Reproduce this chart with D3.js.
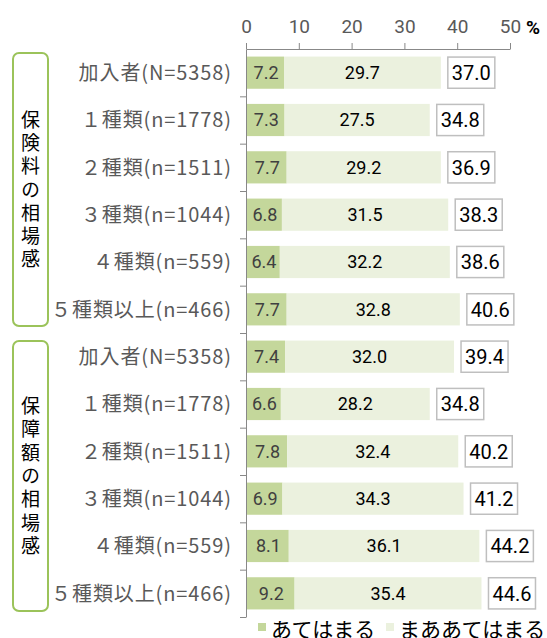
<!DOCTYPE html>
<html>
<head>
<meta charset="utf-8">
<script src="https://cdn.jsdelivr.net/npm/d3@7"></script>
<style>
  body { margin: 0; background: #fff; }
  svg { display: block; font-family: "Noto Sans CJK JP", sans-serif; }
</style>
</head>
<body>
<svg id="chart" width="547" height="638"></svg>
<script>
// row labels (two groups of six)
const categories = [
  "加入者(N=5358)", "１種類(n=1778)", "２種類(n=1511)", "３種類(n=1044)", "４種類(n=559)", "５種類以上(n=466)",
  "加入者(N=5358)", "１種類(n=1778)", "２種類(n=1511)", "３種類(n=1044)", "４種類(n=559)", "５種類以上(n=466)"
];
const groups = ["保険料の相場感", "保障額の相場感"];
const applies = [7.2, 7.3, 7.7, 6.8, 6.4, 7.7, 7.4, 6.6, 7.8, 6.9, 8.1, 9.2];
const somewhat = [29.7, 27.5, 29.2, 31.5, 32.2, 32.8, 32.0, 28.2, 32.4, 34.3, 36.1, 35.4];
const totals = [37.0, 34.8, 36.9, 38.3, 38.6, 40.6, 39.4, 34.8, 40.2, 41.2, 44.2, 44.6];
const ticks = [0, 10, 20, 30, 40, 50];
const seriesNames = ["あてはまる", "まああてはまる"];
const colors = ["#c4d79b", "#ebf1de"];

const svg = d3.select("#chart");
const rows = categories.map((c, i) => ({ i, c, a: applies[i], b: somewhat[i], t: totals[i] }));

const x = d3.scaleLinear().domain([0, 50]).range([246, 510]);
const y = d3.scaleBand().domain(d3.range(12)).range([49, 617]).paddingInner(0.32).paddingOuter(0.16);

// top axis
const xAxis = svg.append("g").attr("transform", "translate(0,49)")
  .call(d3.axisTop(x).tickValues(ticks).tickSize(6).tickSizeOuter(0).tickPadding(10));
xAxis.select(".domain").attr("stroke", "#888");
xAxis.selectAll(".tick line").attr("stroke", "#888");
xAxis.selectAll(".tick text")
  .attr("fill", "#595959").attr("font-size", 19)
  .attr("font-family", "Roboto, sans-serif");
svg.append("text").attr("x", 526).attr("y", 34)
  .attr("font-size", 19).attr("font-weight", "bold").attr("fill", "#000")
  .attr("font-family", "Roboto, sans-serif").text("%");

// left axis (separators between rows)
const yLine = d3.scaleLinear().domain([0, 12]).range([49, 617]);
const yAxis = svg.append("g").attr("transform", "translate(246,0)")
  .call(d3.axisLeft(yLine).tickValues(d3.range(1, 13)).tickSize(6).tickSizeOuter(0).tickFormat(""));
yAxis.select(".domain").attr("stroke", "#888");
yAxis.selectAll(".tick line").attr("stroke", "#888");

// stacked bars
const rowG = svg.append("g").selectAll("g").data(rows).join("g");
rowG.append("rect")
  .attr("x", x(0) + 1).attr("y", d => y(d.i))
  .attr("width", d => x(d.a) - x(0) - 1).attr("height", y.bandwidth())
  .attr("fill", colors[0]);
rowG.append("rect")
  .attr("x", d => x(d.a)).attr("y", d => y(d.i))
  .attr("width", d => x(d.a + d.b) - x(d.a)).attr("height", y.bandwidth())
  .attr("fill", colors[1]);

rowG.append("text")
  .attr("x", d => (x(0) + x(d.a)) / 2 + 1).attr("y", d => y(d.i) + y.bandwidth() / 2)
  .attr("dy", "0.36em").attr("text-anchor", "middle")
  .attr("font-size", 18).attr("fill", "#404040")
  .attr("font-family", "Roboto, sans-serif")
  .text(d => d.a.toFixed(1));
rowG.append("text")
  .attr("x", d => (x(d.a) + x(d.a + d.b)) / 2).attr("y", d => y(d.i) + y.bandwidth() / 2)
  .attr("dy", "0.36em").attr("text-anchor", "middle")
  .attr("font-size", 18).attr("fill", "#000")
  .attr("font-family", "Roboto, sans-serif")
  .text(d => d.b.toFixed(1));

// total boxes
rowG.append("rect")
  .attr("x", d => x(d.a + d.b) + 7).attr("y", d => y(d.i) + 0.5)
  .attr("width", 47).attr("height", y.bandwidth() - 1)
  .attr("fill", "#fff").attr("stroke", "#bfbfbf").attr("stroke-width", 1.5);
rowG.append("text")
  .attr("x", d => x(d.a + d.b) + 7 + 23.5).attr("y", d => y(d.i) + y.bandwidth() / 2)
  .attr("dy", "0.36em").attr("text-anchor", "middle")
  .attr("font-size", 20).attr("fill", "#000")
  .attr("font-family", "Roboto, sans-serif")
  .text(d => d.t.toFixed(1));

// category labels
svg.append("g").selectAll("text").data(rows).join("text")
  .attr("x", 232).attr("y", d => y(d.i) + y.bandwidth() / 2)
  .attr("dy", "0.36em").attr("text-anchor", "end")
  .attr("font-size", 20).attr("fill", "#595959").attr("letter-spacing", 0.9)
  .text(d => d.c);

// group boxes with vertical titles
const groupBoxes = [{ y0: 53, y1: 326 }, { y0: 341, y1: 611 }];
const gg = svg.append("g").selectAll("g").data(groups).join("g");
gg.append("rect")
  .attr("x", 13).attr("y", (d, i) => groupBoxes[i].y0)
  .attr("width", 35).attr("height", (d, i) => groupBoxes[i].y1 - groupBoxes[i].y0)
  .attr("rx", 6).attr("fill", "none").attr("stroke", "#9bc35a").attr("stroke-width", 2);
gg.append("text")
  .attr("x", 30.5)
  .attr("y", (d, i) => (groupBoxes[i].y0 + groupBoxes[i].y1) / 2 + 2)
  .attr("text-anchor", "middle")
  .style("writing-mode", "vertical-rl")
  .attr("letter-spacing", 4.3)
  .attr("font-size", 19).attr("fill", "#000")
  .text(d => d);

// legend
const legend = svg.append("g").selectAll("g").data(seriesNames).join("g")
  .attr("transform", (d, i) => `translate(${i === 0 ? 258 : 386},0)`);
legend.append("rect").attr("x", 0).attr("y", 623).attr("width", 8).attr("height", 8)
  .attr("fill", (d, i) => colors[i]);
legend.append("text").attr("x", 13).attr("y", 637)
  .attr("font-size", 21).attr("fill", "#000")
  .text(d => d);
</script>
</body>
</html>
